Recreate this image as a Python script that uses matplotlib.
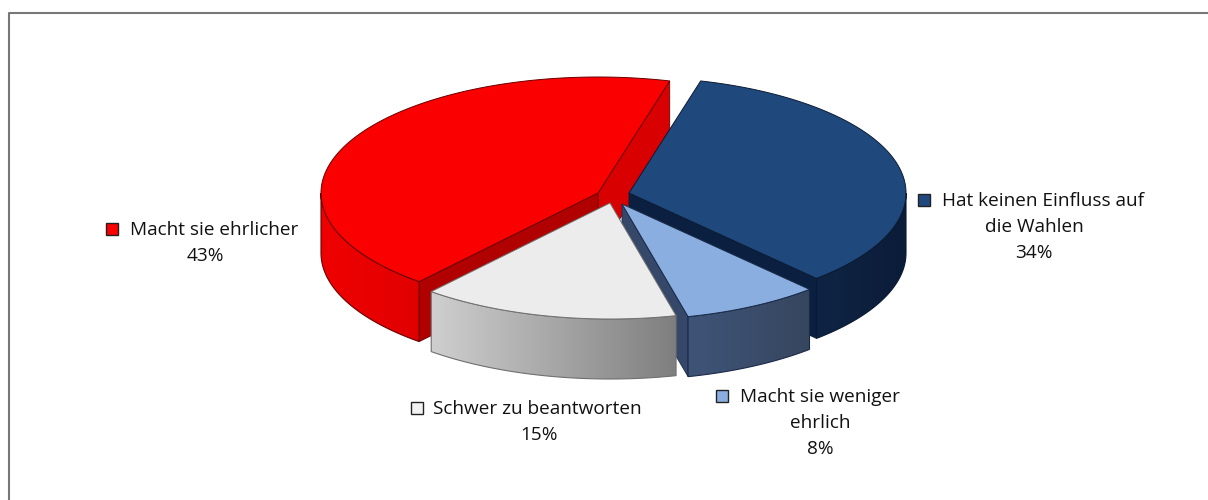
import numpy as np
import matplotlib as mpl
mpl.use('Agg')
import matplotlib.pyplot as plt
from matplotlib.patches import Polygon, Rectangle
from matplotlib.colors import LinearSegmentedColormap

# chart values, clockwise from the back of the pie
labels = [["Hat keinen Einfluss auf", "die Wahlen"],
          ["Macht sie weniger", "ehrlich"],
          ["Schwer zu beantworten"],
          ["Macht sie ehrlicher"]]
shares = [34, 8, 15, 43]

# look of each slice
top_colors = ["#1f497d", "#8aaee0", "#ececec", "#fb0000"]
cut_colors = ["#0b2040", "#36486a", "#9a9a9a", "#b00000"]
cut_back_colors = ["#0b2040", "#36486a", "#9a9a9a", "#d80000"]
rim_left = ["#0f2444", "#3e5478", "#cfcfcf", "#f00000"]
rim_right = ["#0b1c38", "#37465f", "#7f7f7f", "#e00000"]
edge_colors = ["#0a1a33", "#1a2a48", "#6f6f6f", "#6a0000"]
key_colors = ["#1f497d", "#8aaee0", "#f2f2f2", "#fb0000"]

# exploded tip of each slice in pixels
tips = [(629, 193), (622, 204), (610, 203), (598, 193)]
key_pos = [(924, 200), (722, 396), (417, 408), (112, 229)]
first_x = [942, 740, 433, 130]
rest_x = [1034, 820, 539, 205]
first_y = [201, 397, 409, 230]

A = 277.0
B = 116.0
DEPTH = 60.0
START = 75.0
LINE_H = 26
FONT_SIZE = 13.7

plt.rcParams['font.family'] = ['Open Sans', 'DejaVu Sans']

fig = plt.figure(figsize=(12.08, 5.0), dpi=100)
ax = fig.add_axes([0, 0, 1, 1])
ax.set_xlim(0, 1208)
ax.set_ylim(500, 0)
ax.axis('off')

# frame runs off the bottom and right of the picture
ax.plot([9, 9, 1208], [500, 13, 13], color="#777777", lw=1.5, zorder=1)


def arc(tip, t0, t1, dy=0.0):
    t = np.radians(np.linspace(t0, t1, 120))
    return np.column_stack([tip[0] + A * np.cos(t), tip[1] - B * np.sin(t) + dy])


def gradient_poly(pts, c0, c1, z, edge):
    cmap = LinearSegmentedColormap.from_list("rim", [c0, c1])
    x0, x1 = pts[:, 0].min(), pts[:, 0].max()
    y0, y1 = pts[:, 1].min(), pts[:, 1].max()
    im = ax.imshow(np.linspace(0, 1, 256).reshape(1, -1), cmap=cmap, aspect='auto',
                   extent=(x0, x1, y1, y0), zorder=z, interpolation='bilinear')
    p = Polygon(pts, closed=True, fc='none', ec=edge, lw=0.8, zorder=z + 0.1)
    ax.add_patch(p)
    im.set_clip_path(Polygon(pts, closed=True, transform=ax.transData))


# angle of every slice from the shares
totals = np.cumsum(shares)
ends = START - 360.0 * totals / 100.0
starts = np.concatenate([[START], ends[:-1]])

# back slices first, white goes on top of the blue cut face
order = [3, 0, 1, 2]
for n, i in enumerate(order):
    z = 2 + n * 2
    tip = tips[i]
    t0, t1 = starts[i], ends[i]
    p0 = arc(tip, t0, t0)[0]
    p1 = arc(tip, t1, t1)[0]
    down = np.array([0, DEPTH])
    tp = np.array(tip, dtype=float)

    # cut faces, only the ones turned to the viewer
    if i == 3:
        ax.add_patch(Polygon([tp, p1, p1 + down, tp + down], fc=cut_back_colors[i],
                             ec=edge_colors[i], lw=0.6, zorder=z))
        ax.add_patch(Polygon([tp, p0, p0 + down, tp + down], fc=cut_colors[i],
                             ec=edge_colors[i], lw=0.6, zorder=z))
    elif i in (0, 1):
        ax.add_patch(Polygon([tp, p1, p1 + down, tp + down], fc=cut_colors[i],
                             ec=edge_colors[i], lw=0.6, zorder=z))

    # outer rim, front half of the ellipse only
    r0 = min(t0, 0.0)
    r1 = max(t1, -180.0)
    top_arc = arc(tip, r0, r1)
    low_arc = arc(tip, r1, r0, DEPTH)
    gradient_poly(np.vstack([top_arc, low_arc]), rim_left[i], rim_right[i], z + 0.3, edge_colors[i])

    # top face
    ax.add_patch(Polygon(np.vstack([[tp], arc(tip, t0, t1)]), fc=top_colors[i],
                         ec=edge_colors[i], lw=0.7, zorder=z + 0.6))

# labels with their small legend squares
for i in range(len(labels)):
    kx, ky = key_pos[i]
    ax.add_patch(Rectangle((kx - 6.5, ky - 6.5), 12, 12, fc=key_colors[i], ec="#222222",
                           lw=1.0, zorder=20))
    ax.text(first_x[i], first_y[i], labels[i][0], ha='left', va='center', fontsize=FONT_SIZE,
            color="#111111", zorder=20)
    y = first_y[i]
    for line in labels[i][1:]:
        y += LINE_H
        ax.text(rest_x[i], y, line, ha='center', va='center', fontsize=FONT_SIZE, color="#111111", zorder=20)
    y += LINE_H
    ax.text(rest_x[i], y, str(shares[i]) + "%", ha='center', va='center', fontsize=FONT_SIZE,
            color="#111111", zorder=20)

ax.set_xlim(0, 1208)
ax.set_ylim(500, 0)
fig.savefig("out.png", dpi=100)
